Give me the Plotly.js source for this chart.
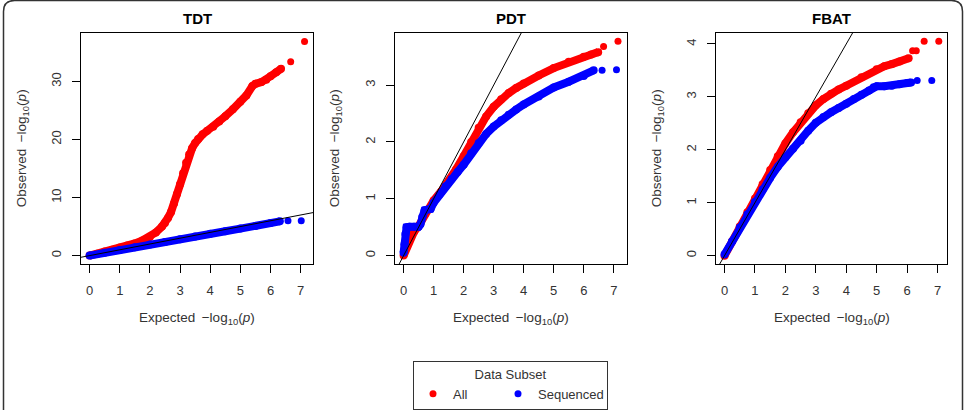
<!DOCTYPE html>
<html>
<head>
<meta charset="utf-8">
<script src="https://cdn.plot.ly/plotly-3.0.1.min.js"></script>
<style>
  html, body { margin: 0; padding: 0; background: #fff; }
  #chart { width: 965px; height: 410px; }
</style>
</head>
<body>
<div id="chart"></div>
<script>
// QQ plots of -log10(p) for three family-based association tests,
// comparing all markers with the sequenced subset.

const panelTitles = ["TDT", "PDT", "FBAT"];
const seriesNames = ["All", "Sequenced"];
const seriesColors = ["#ff0000", "#0000ff"];

const xTicks = [0, 1, 2, 3, 4, 5, 6, 7];
const tdtYTicks = [0, 10, 20, 30];
const pdtYTicks = [0, 1, 2, 3];
const fbatYTicks = [0, 1, 2, 3, 4];

// Identity line (expected = observed)
const refLine = [-1, 40];

// TDT
const tdtAllX = [0, 0.25, 0.5, 0.75, 1.0, 1.25, 1.5, 1.75, 2.0, 2.2, 2.4, 2.5, 2.6, 2.7, 2.8, 2.9, 3.0, 3.1, 3.2, 3.3, 3.4, 3.5, 3.6, 3.75, 3.9, 4.1, 4.3, 4.5, 4.75, 5.0, 5.2, 5.4, 5.5, 5.7, 5.86, 6.0, 6.19, 6.35];
const tdtAllY = [0, 0.3, 0.7, 1.0, 1.4, 1.75, 2.1, 2.6, 3.2, 4.0, 5.0, 5.6, 6.5, 7.5, 9.0, 10.6, 12.3, 14.2, 16.0, 17.4, 18.5, 19.4, 20.1, 20.9, 21.5, 22.2, 23.1, 24.0, 25.2, 26.5, 27.6, 29.2, 29.6, 29.9, 30.3, 30.9, 31.6, 32.2];
const tdtAllTailX = [6.67, 7.13];
const tdtAllTailY = [33.4, 36.9];
const tdtSeqX = [0, 0.5, 1, 1.5, 2, 2.5, 3, 3.5, 4, 4.5, 5, 5.5, 6, 6.31];
const tdtSeqY = [0, 0.5, 0.95, 1.45, 1.9, 2.35, 2.8, 3.3, 3.75, 4.2, 4.65, 5.1, 5.6, 5.9];
const tdtSeqTailX = [6.58, 7.02];
const tdtSeqTailY = [6.0, 6.0];

// PDT
const pdtAllX = [0, 0.1, 0.2, 0.35, 0.5, 0.7, 1.0, 1.25, 1.5, 1.75, 2.0, 2.25, 2.5, 2.75, 3.0, 3.25, 3.5, 3.75, 4.0, 4.5, 5.0, 5.5, 6.0, 6.25, 6.48];
const pdtAllY = [0, 0.15, 0.3, 0.42, 0.52, 0.72, 0.97, 1.13, 1.3, 1.52, 1.75, 2.0, 2.25, 2.45, 2.62, 2.75, 2.86, 2.95, 3.03, 3.17, 3.3, 3.41, 3.5, 3.54, 3.58];
const pdtAllTailX = [6.66, 7.14];
const pdtAllTailY = [3.68, 3.77];
const pdtSeqX = [0, 0.03, 0.06, 0.1, 0.2, 0.35, 0.5, 0.56, 0.62, 0.7, 0.8, 0.9, 1.0, 1.2, 1.4, 1.6, 1.8, 2.0, 2.25, 2.5, 2.75, 3.0, 3.25, 3.5, 3.75, 4.0, 4.5, 5.0, 5.5, 6.0, 6.33];
const pdtSeqY = [0.05, 0.2, 0.38, 0.5, 0.51, 0.51, 0.51, 0.55, 0.68, 0.8, 0.81, 0.82, 0.93, 1.08, 1.22, 1.35, 1.47, 1.6, 1.8, 1.98, 2.14, 2.27, 2.38, 2.48, 2.57, 2.66, 2.8, 2.96, 3.06, 3.16, 3.26];
const pdtSeqTailX = [6.61, 7.09];
const pdtSeqTailY = [3.26, 3.27];

// FBAT
const fbatAllX = [0, 0.25, 0.5, 0.75, 1.0, 1.25, 1.5, 1.75, 2.0, 2.25, 2.5, 2.75, 3.0, 3.25, 3.5, 3.75, 4.0, 4.5, 5.0, 5.25, 5.5, 5.75, 6.05];
const fbatAllY = [0, 0.27, 0.55, 0.82, 1.08, 1.35, 1.62, 1.88, 2.12, 2.33, 2.52, 2.69, 2.84, 2.96, 3.06, 3.14, 3.21, 3.37, 3.52, 3.58, 3.62, 3.67, 3.73];
const fbatAllTailX = [6.18, 6.3, 6.56, 7.04];
const fbatAllTailY = [3.87, 3.87, 4.05, 4.05];
const fbatSeqX = [0, 0.25, 0.5, 0.75, 1.0, 1.25, 1.5, 1.75, 2.0, 2.25, 2.5, 2.75, 3.0, 3.25, 3.5, 3.75, 4.0, 4.25, 4.5, 4.75, 4.9, 5.0, 5.25, 5.5, 5.75, 6.0, 6.13];
const fbatSeqY = [0.02, 0.27, 0.53, 0.78, 1.02, 1.25, 1.47, 1.68, 1.86, 2.02, 2.17, 2.36, 2.51, 2.62, 2.71, 2.79, 2.87, 2.96, 3.04, 3.12, 3.18, 3.2, 3.2, 3.21, 3.24, 3.26, 3.27];
const fbatSeqTailX = [6.33, 6.81];
const fbatSeqTailY = [3.31, 3.31];

const W = 965, H = 410;
const px = v => v / W;
const py = v => 1 - v / H;

const FONT = "Liberation Sans, Arial, Helvetica, sans-serif";
const BAND = 8;
const DOT = 7;

const panels = [
  { xa: "x", ya: "y", la: "y4", all: [tdtAllX, tdtAllY, tdtAllTailX, tdtAllTailY], seq: [tdtSeqX, tdtSeqY, tdtSeqTailX, tdtSeqTailY] },
  { xa: "x2", ya: "y2", la: "y5", all: [pdtAllX, pdtAllY, pdtAllTailX, pdtAllTailY], seq: [pdtSeqX, pdtSeqY, pdtSeqTailX, pdtSeqTailY] },
  { xa: "x3", ya: "y3", la: "y6", all: [fbatAllX, fbatAllY, fbatAllTailX, fbatAllTailY], seq: [fbatSeqX, fbatSeqY, fbatSeqTailX, fbatSeqTailY] }
];
const legendWidths = [40, 64];

const traces = [];
panels.forEach((p, i) => {
  [p.all, p.seq].forEach((s, k) => {
    traces.push({
      x: s[0], y: s[1], xaxis: p.xa, yaxis: p.ya,
      type: "scatter", mode: "lines+markers",
      line: { color: seriesColors[k], width: BAND },
      marker: { color: seriesColors[k], size: BAND },
      showlegend: false, hoverinfo: "skip"
    });
    traces.push({
      x: s[2], y: s[3], xaxis: p.xa, yaxis: p.ya,
      type: "scatter", mode: "markers",
      name: seriesNames[k],
      marker: { color: seriesColors[k], size: DOT },
      legendgroup: seriesNames[k],
      legendwidth: legendWidths[k],
      showlegend: i === 0, hoverinfo: "skip"
    });
  });
  traces.push({
    x: refLine, y: refLine, xaxis: p.xa, yaxis: p.ya,
    type: "scatter", mode: "lines",
    line: { color: "#000", width: 1 },
    showlegend: false, hoverinfo: "skip"
  });
  // empty trace that ties the label axis to this panel
  traces.push({
    x: [], y: [], xaxis: p.xa, yaxis: p.la,
    type: "scatter", mode: "markers",
    showlegend: false, hoverinfo: "skip"
  });
});

const axisBase = {
  showline: true, mirror: true, linecolor: "#000", linewidth: 1,
  ticks: "outside", ticklen: 8, tickwidth: 1, tickcolor: "#000",
  showgrid: false, zeroline: false, tickmode: "array",
  tickfont: { family: FONT, size: 13, color: "#333" },
  fixedrange: true
};
const yDom = [py(265.5), py(33)];
const xAx = (dom, range) => Object.assign({}, axisBase, {
  domain: dom, range: range, tickvals: xTicks, ticklabelstandoff: 6
});
// Frame axis: line and ticks, labels come from the companion axis below
const yAx = (anchor, range, ticks) => Object.assign({}, axisBase, {
  domain: yDom, range: range, tickvals: ticks,
  anchor: anchor, showticklabels: false
});
// Companion axis carrying the rotated tick labels, set a little further out
const yLab = (base, range, ticks, pos) => Object.assign({}, axisBase, {
  overlaying: base, anchor: "free", position: pos, side: "left",
  range: range, tickvals: ticks, tickangle: -90,
  showline: false, tickcolor: "rgba(0,0,0,0)"
});

const panelX = [[81, 313], [395, 626.7], [716, 947.3]];
const yTitleX = [22, 335, 657];

const annotations = [];
panelX.forEach((b, i) => {
  const cx = (b[0] + b[1]) / 2;
  annotations.push({
    xref: "paper", yref: "paper", x: px(cx), y: py(19),
    text: "<b>" + panelTitles[i] + "</b>", showarrow: false,
    font: { family: FONT, size: 15, color: "#000" },
    xanchor: "center", yanchor: "middle"
  });
  annotations.push({
    xref: "paper", yref: "paper", x: px(cx), y: py(320),
    text: "Expected \u2009\u2212log<sub>10</sub>(<i>p</i>)", showarrow: false,
    font: { family: FONT, size: 13.5, color: "#333" },
    xanchor: "center", yanchor: "middle"
  });
  annotations.push({
    xref: "paper", yref: "paper", x: px(yTitleX[i]), y: py(149),
    text: "Observed \u2009\u2212log<sub>10</sub>(<i>p</i>)", showarrow: false,
    textangle: -90,
    font: { family: FONT, size: 13.5, color: "#333" },
    xanchor: "center", yanchor: "middle"
  });
});

// Rounded outer frame
const fl = px(3.5), fr = px(962.5), ft = py(0.5), fb = py(440);
const rx = px(11), ry = 11 / H;
const framePath = [
  "M", fl, fb,
  "L", fl, ft - ry,
  "Q", fl, ft, fl + rx, ft,
  "L", fr - rx, ft,
  "Q", fr, ft, fr, ft - ry,
  "L", fr, fb
].join(" ");

const tdtYRange = [-1.48, 38.38];
const pdtYRange = [-0.151, 3.92];
const fbatYRange = [-0.162, 4.21];

const layout = {
  width: W, height: H,
  margin: { l: 0, r: 0, t: 0, b: 0 },
  paper_bgcolor: "#fff", plot_bgcolor: "#fff",
  font: { family: FONT, size: 13, color: "#333" },
  xaxis: xAx([px(81), px(313)], [-0.285, 7.41]),
  yaxis: yAx("x", tdtYRange, tdtYTicks),
  xaxis2: Object.assign(xAx([px(395), px(626.7)], [-0.286, 7.43]), { anchor: "y2" }),
  yaxis2: yAx("x2", pdtYRange, pdtYTicks),
  xaxis3: Object.assign(xAx([px(716), px(947.3)], [-0.28, 7.32]), { anchor: "y3" }),
  yaxis3: yAx("x3", fbatYRange, fbatYTicks),
  yaxis4: yLab("y", tdtYRange, tdtYTicks, px(74)),
  yaxis5: yLab("y2", pdtYRange, pdtYTicks, px(388)),
  yaxis6: yLab("y3", fbatYRange, fbatYTicks, px(709)),
  showlegend: true,
  legend: {
    orientation: "h",
    x: px(413), xanchor: "left",
    y: py(363), yanchor: "top",
    bgcolor: "#fff", bordercolor: "#333", borderwidth: 1,
    font: { family: FONT, size: 13, color: "#333" },
    title: { text: "Data Subset", side: "top center", font: { family: FONT, size: 13, color: "#333" } },
    itemclick: false, itemdoubleclick: false
  },
  shapes: [{
    type: "path", xref: "paper", yref: "paper", path: framePath,
    line: { color: "#333", width: 1.5 }, layer: "above"
  }],
  annotations: annotations
};

Plotly.newPlot("chart", traces, layout, { displayModeBar: false });
</script>
</body>
</html>
